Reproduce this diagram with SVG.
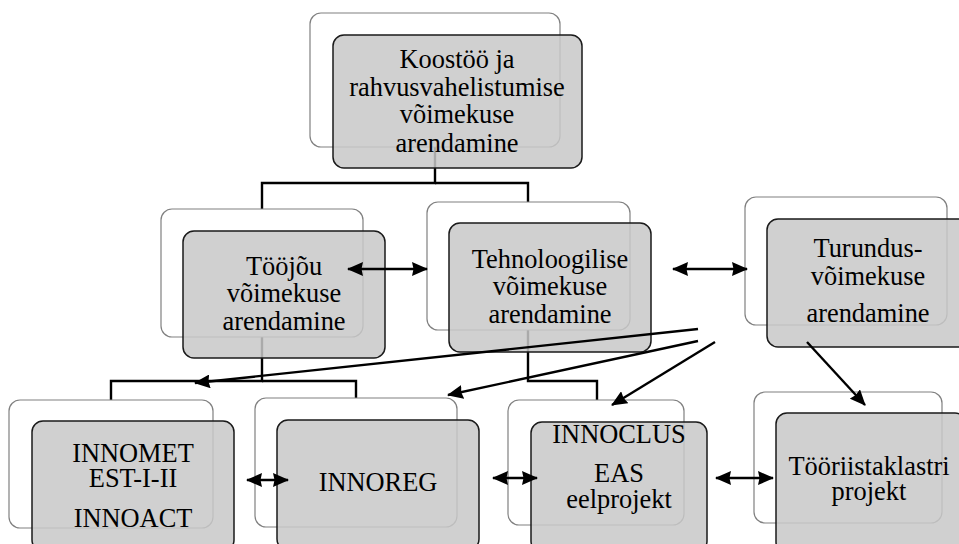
<svg xmlns="http://www.w3.org/2000/svg" width="959" height="544" viewBox="0 0 959 544">
<defs>
<style>
.back{fill:#ffffff;stroke:#808080;stroke-width:1.2}
.front{fill:#c8c8c8;fill-opacity:0.85;stroke:#1a1a1a;stroke-width:1.5}
.t{font-size:26.4px;fill:#000;text-anchor:middle}
.ln{fill:none;stroke:#000;stroke-width:2.4}
.ar{fill:none;stroke:#000;stroke-width:2.4;marker-end:url(#ah)}
.dar{fill:none;stroke:#000;stroke-width:2.4;marker-start:url(#ah);marker-end:url(#ah)}
</style>
<marker id="ah" viewBox="0 0 16 14" refX="15" refY="7" markerWidth="16" markerHeight="14" markerUnits="userSpaceOnUse" orient="auto-start-reverse">
<path d="M0,0 L16,7 L0,14 L1.5,7 z" fill="#000"/>
</marker>
</defs>
<rect width="959" height="544" fill="#fff"/>

<g id="tree-connectors">
<path class="ln" d="M435,147 V183 H262 V209"/>
<path class="ln" d="M435,183 H528 V202"/>
<path class="ln" d="M262,337 V381 H111 V400"/>
<path class="ln" d="M262,381 H356 V398"/>
<path class="ln" d="M528,330 V381 H597 V400"/>
</g>

<g font-family="Liberation Serif, DejaVu Serif, serif">
<g id="node-koostoo">
<rect class="back" x="310" y="13" width="250" height="134" rx="11"/>
<rect class="front" x="333" y="35" width="249" height="133" rx="11"/>
<text class="t" x="457" y="68">Koostöö ja</text>
<text class="t" x="457" y="96">rahvusvahelistumise</text>
<text class="t" x="457" y="123">võimekuse</text>
<text class="t" x="457" y="152">arendamine</text>
</g>

<g id="node-toojou">
<rect class="back" x="161" y="209" width="202" height="128" rx="11"/>
<rect class="front" x="183" y="231" width="202" height="127" rx="11"/>
<text class="t" x="284" y="275">Tööjõu</text>
<text class="t" x="284" y="302">võimekuse</text>
<text class="t" x="284" y="330">arendamine</text>
</g>

<g id="node-tehno">
<rect class="back" x="427" y="202" width="203" height="128" rx="11"/>
<rect class="front" x="449" y="223" width="202" height="129" rx="11"/>
<text class="t" x="550" y="268">Tehnoloogilise</text>
<text class="t" x="550" y="295">võimekuse</text>
<text class="t" x="550" y="323">arendamine</text>
</g>

<g id="node-turundus">
<rect class="back" x="745" y="197" width="202" height="128" rx="11"/>
<rect class="front" x="767" y="219" width="202" height="128" rx="11"/>
<text class="t" x="868" y="257">Turundus-</text>
<text class="t" x="868" y="285">võimekuse</text>
<text class="t" x="868" y="322">arendamine</text>
</g>

<g id="node-innomet">
<rect class="back" x="9" y="400" width="204" height="128" rx="11"/>
<rect class="front" x="32" y="421" width="202" height="130" rx="11"/>
<text class="t" x="133" y="462">INNOMET</text>
<text class="t" x="133" y="487">EST-I-II</text>
<text class="t" x="133" y="527">INNOACT</text>
</g>

<g id="node-innoreg">
<rect class="back" x="255" y="398" width="202" height="129" rx="11"/>
<rect class="front" x="277" y="420" width="202" height="130" rx="11"/>
<text class="t" x="378" y="491">INNOREG</text>
</g>

<g id="node-innoclus">
<rect class="back" x="508" y="400" width="176" height="125" rx="11"/>
<rect class="front" x="531" y="422" width="176" height="130" rx="11"/>
<text class="t" x="619" y="443">INNOCLUS</text>
<text class="t" x="619" y="482">EAS</text>
<text class="t" x="619" y="508">eelprojekt</text>
</g>

<g id="node-tooriistaklaster">
<rect class="back" x="754" y="392" width="188" height="131" rx="11"/>
<rect class="front" x="776" y="413" width="190" height="140" rx="11"/>
<text class="t" x="869" y="475">Tööriistaklastri</text>
<text class="t" x="869" y="500">projekt</text>
</g>
</g>

<g id="arrow-connectors">
<path class="dar" d="M348,269 H427"/>
<path class="dar" d="M673,269 H747"/>
<path class="dar" d="M247,480 H288"/>
<path class="dar" d="M493,478 H537"/>
<path class="dar" d="M716,478 H773"/>
<path class="ar" d="M698,329 L195,383"/>
<path class="ar" d="M698,341 L448,395"/>
<path class="ar" d="M715,342 L612,405"/>
<path class="ar" d="M807,342 L865,405"/>
</g>
</svg>
